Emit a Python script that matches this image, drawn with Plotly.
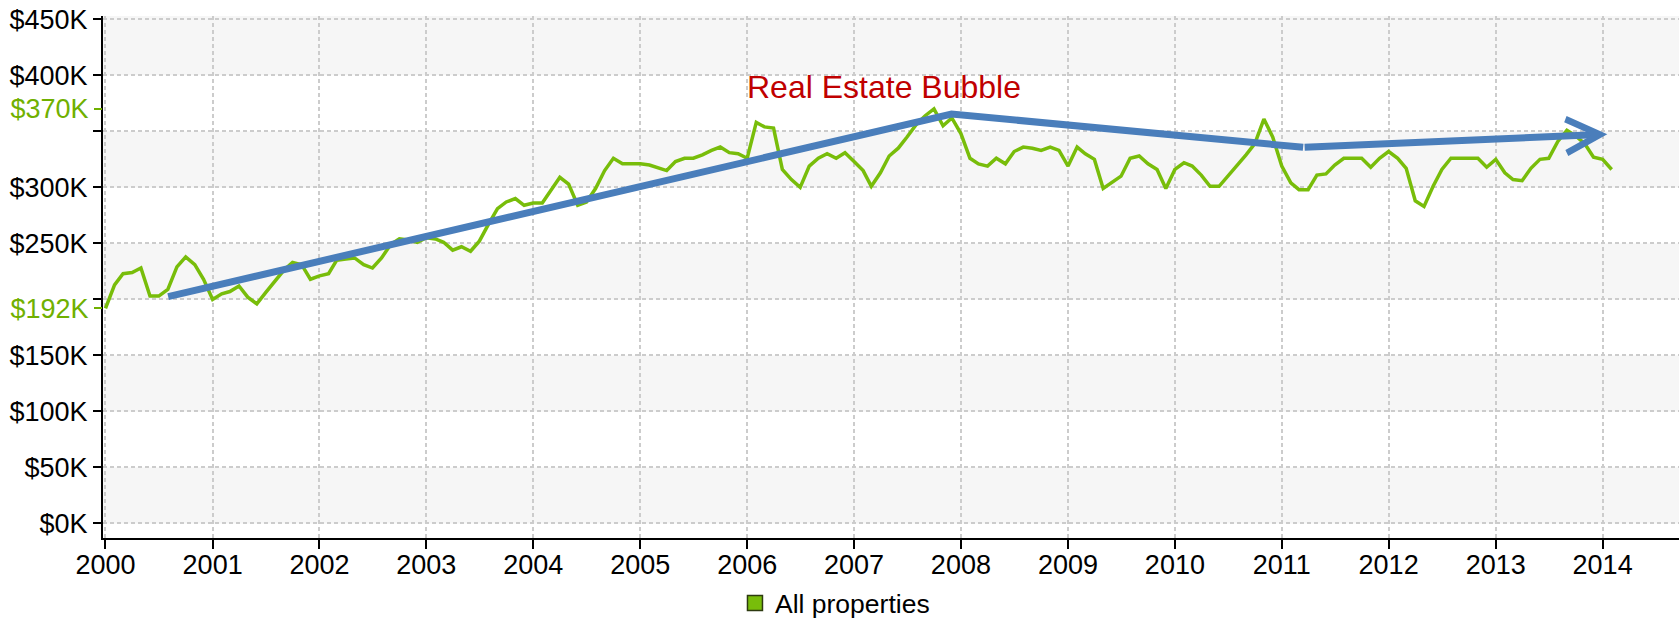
import datetime as dt
import pandas as pd
import plotly.graph_objects as go

# ---------------- data ----------------
start_month = "2000-01-01"
prices = [
    192, 213, 223, 224, 228, 203, 203, 209, 229, 238, 231, 218,   # 2000
    200, 205, 207, 212, 202, 196, 206, 216, 226, 233, 231, 218,   # 2001
    221, 223, 235, 236, 237, 231, 228, 237, 249, 254, 253, 251,   # 2002
    255, 254, 251, 244, 247, 243, 252, 267, 281, 287, 290, 284,   # 2003
    286, 286, 297, 309, 303, 284, 287, 299, 315, 326, 321, 321,   # 2004
    321, 320, 318, 315, 323, 326, 326, 329, 333, 336, 331, 330,   # 2005
    326, 358, 354, 353, 316, 307, 300, 319, 326, 330, 326, 331,   # 2006
    323, 315, 301, 313, 328, 335, 345, 356, 364, 370, 355, 362,   # 2007
    348, 326, 321, 319, 326, 321, 332, 336, 335, 333, 336, 333,   # 2008
    319, 336, 330, 325, 299, 305, 310, 326, 328, 321, 316, 299,   # 2009
    316, 322, 319, 311, 301, 301, 310, 319, 329, 339, 361, 345,   # 2010
    319, 304, 298, 298, 311, 312, 320, 326, 326, 326, 318, 326,   # 2011
    332, 326, 317, 288, 283, 301, 316, 326, 326, 326, 326, 318,   # 2012
    325, 313, 307, 306, 317, 325, 326, 341, 351, 346, 339, 327,   # 2013
    325, 316,                                                     # 2014
]
prices = [p * 1000 for p in prices]
series_name = "All properties"

arrow_dates = ["2000-08-02", "2007-11-30", "2011-03-15", "2014-01-17"]
arrow_values = [202500, 365500, 335800, 347400]

annotation_text = "Real Estate Bubble"
annotation_date = "2007-04-13"
annotation_value = 390000

ytick_vals = [0, 50000, 100000, 150000, 200000, 250000, 300000, 350000, 400000, 450000]
ytick_text = ["$0K", "$50K", "$100K", "$150K", "", "$250K", "$300K", "", "$400K", "$450K"]
marker_vals = [192000, 370000]
marker_text = ["$192K", "$370K"]
year_ticks = [f"{y}-01-01" for y in range(2000, 2015)]
year_text = [str(y) for y in range(2000, 2015)]

# ---------------- style ----------------
GREEN = "#78bd0a"
GREEN_TXT = "#70b000"
BLUE = "#4a7ebb"
RED = "#c00000"
FONT = "Liberation Sans, Arial, sans-serif"
GRID = "#cccccc"
BAND = "#f6f6f6"
TXT = "#000000"
FS = 27

dates = pd.date_range(start_month, periods=len(prices), freq="MS")

x_start = dt.datetime(1999, 12, 23, 12)
x_end = x_start + dt.timedelta(days=1576 / 0.29275)
y_range = [-13000, 453000]

fig = go.Figure()

fig.add_trace(go.Scatter(
    x=dates, y=prices, mode="lines", name=series_name, showlegend=False,
    line=dict(color=GREEN, width=3.5), hoverinfo="skip",
))
fig.add_trace(go.Scatter(
    x=[None], y=[None], mode="markers", name=series_name, showlegend=True,
    marker=dict(symbol="square", size=15, color=GREEN, line=dict(color="#2d3a10", width=1.5)),
))
fig.add_trace(go.Scatter(
    x=arrow_dates[:-1], y=arrow_values[:-1], mode="lines", showlegend=False,
    line=dict(color=BLUE, width=7), hoverinfo="skip",
))
# helper traces so the overlay axes are drawn
fig.add_trace(go.Scatter(x=[None], y=[None], xaxis="x", yaxis="y2", showlegend=False))
fig.add_trace(go.Scatter(x=[None], y=[None], xaxis="x2", yaxis="y", showlegend=False))

fig.add_annotation(
    x=arrow_dates[-1], y=arrow_values[-1], ax=arrow_dates[-2], ay=arrow_values[-2],
    xref="x", yref="y", axref="x", ayref="y", text="", showarrow=True,
    arrowhead=5, arrowsize=0.95, arrowwidth=7, arrowcolor=BLUE, standoff=0,
)
fig.add_annotation(
    x=annotation_date, y=annotation_value, xref="x", yref="y", text=annotation_text,
    showarrow=False, font=dict(family=FONT, size=32, color=RED),
)

band_edges = [(0, 50000), (100000, 150000), (200000, 250000), (300000, 350000), (400000, y_range[1])]
for lo, hi in band_edges:
    fig.add_shape(type="rect", xref="paper", yref="y", x0=0, x1=1, y0=lo, y1=hi,
                  fillcolor=BAND, line=dict(width=0), layer="below")

grid = dict(showgrid=True, gridcolor=GRID, gridwidth=1.5, griddash="4px,3px")

fig.update_layout(
    width=1679, height=620,
    margin=dict(l=103, r=0, t=16, b=82, autoexpand=False),
    plot_bgcolor="white", paper_bgcolor="white",
    font=dict(family=FONT, size=FS, color=TXT),
    xaxis=dict(
        type="date", range=[x_start, x_end], tickvals=year_ticks, ticktext=year_text,
        ticks="", showline=True, linecolor="black", linewidth=2, zeroline=False,
        tickfont=dict(family=FONT, size=FS, color=TXT), automargin=False,
        ticklabelstandoff=2, **grid,
    ),
    xaxis2=dict(
        type="date", range=[x_start, x_end], overlaying="x", anchor="y", side="bottom",
        tickvals=year_ticks, showticklabels=False, showgrid=False, showline=False,
        zeroline=False, ticks="outside", ticklen=10, tickwidth=2, tickcolor="black",
        automargin=False,
    ),
    yaxis=dict(
        range=y_range, tickvals=ytick_vals, ticktext=ytick_text,
        showline=True, linecolor="black", linewidth=2, zeroline=False,
        ticks="outside", ticklen=8, tickwidth=2, tickcolor="black",
        tickfont=dict(family=FONT, size=FS, color=TXT), ticklabelstandoff=0,
        automargin=False, **grid,
    ),
    yaxis2=dict(
        overlaying="y", side="left", anchor="x", range=y_range,
        tickvals=marker_vals, ticktext=marker_text,
        showgrid=False, showline=False, zeroline=False, automargin=False,
        ticks="outside", ticklen=8, tickwidth=2, tickcolor=GREEN_TXT,
        tickfont=dict(family=FONT, size=FS, color=GREEN_TXT), ticklabelstandoff=0,
    ),
    showlegend=True,
    legend=dict(
        orientation="h", x=0.401, y=-0.125, xanchor="left", yanchor="middle",
        font=dict(family=FONT, size=26.5, color=TXT), bgcolor="rgba(0,0,0,0)",
    ),
)

fig.write_html("out.html", config={"displayModeBar": False},
               post_script="document.body.style.margin='0px';")
